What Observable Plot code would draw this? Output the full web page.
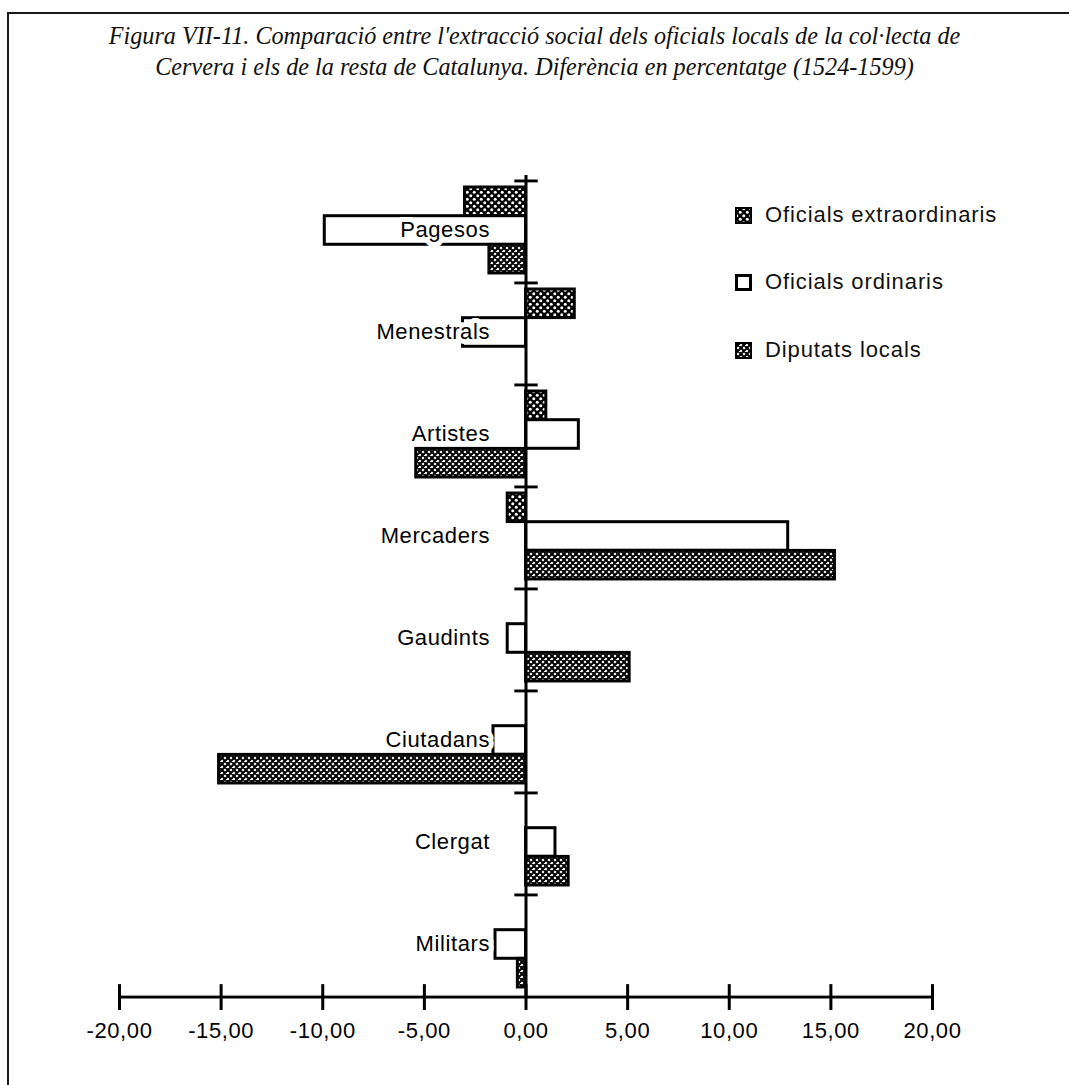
<!DOCTYPE html>
<html>
<head>
<meta charset="utf-8">
<script src="https://cdn.jsdelivr.net/npm/d3@7"></script>
<script src="https://cdn.jsdelivr.net/npm/@observablehq/plot@0.6"></script>
<style>
html, body { margin: 0; padding: 0; background: #fff; }
#page { position: relative; width: 1069px; height: 1085px; overflow: hidden; background: #fff; }
#border { position: absolute; left: 7px; top: 12px; width: 1080px; height: 1090px; border-top: 2px solid #1a1a1a; border-left: 2px solid #1a1a1a; }
#title { position: absolute; left: 0; top: 20px; width: 1069px; text-align: center;
  font-family: "Liberation Serif", "Times New Roman", serif; font-style: italic; font-size: 24.2px; line-height: 31px; color: #111; }
#chart { position: absolute; left: 0; top: 110px; }
.leg { position: absolute; left: 735px; height: 26px; display: flex; align-items: center;
  font-family: "Liberation Sans", Arial, sans-serif; font-size: 22px; letter-spacing: 0.9px; color: #111; }
.leg svg { margin-right: 13px; }
</style>
</head>
<body>
<svg width="0" height="0" style="position:absolute">
  <defs>
    <pattern id="pat-extra" patternUnits="userSpaceOnUse" width="7" height="7">
      <rect width="7" height="7" fill="#000"/>
      <circle cx="1.75" cy="1.75" r="1.5" fill="#fff"/>
      <circle cx="5.25" cy="5.25" r="1.5" fill="#fff"/>
    </pattern>
    <pattern id="pat-dip" patternUnits="userSpaceOnUse" width="6" height="6">
      <rect width="6" height="6" fill="#fff"/>
      <path d="M-1,-1 L7,7 M-1,7 L7,-1 M-1,5 L1,7 M5,-1 L7,1 M-1,1 L1,-1 M5,7 L7,5" stroke="#000" stroke-width="2"/>
    </pattern>
  </defs>
</svg>
<div id="page">
  <div id="border"></div>
  <div id="title">Figura VII-11. Comparació entre l'extracció social dels oficials locals de la col·lecta de<br>Cervera i els de la resta de Catalunya. Diferència en percentatge (1524-1599)</div>
  <div id="chart"></div>
  <div class="leg" style="top:202px"><svg width="17" height="17"><rect x="0" y="0" width="17" height="17" fill="url(#pat-extra)" stroke="#000" stroke-width="4"/></svg>Oficials extraordinaris</div>
  <div class="leg" style="top:269px"><svg width="17" height="17"><rect x="1.5" y="1.5" width="14" height="14" fill="#fff" stroke="#000" stroke-width="3"/></svg>Oficials ordinaris</div>
  <div class="leg" style="top:337px"><svg width="17" height="17"><rect x="0" y="0" width="17" height="17" fill="url(#pat-dip)" stroke="#000" stroke-width="4"/></svg>Diputats locals</div>
</div>
<script>
const categories = ["Pagesos", "Menestrals", "Artistes", "Mercaders", "Gaudints", "Ciutadans", "Clergat", "Militars"];
const seriesNames = ["Oficials extraordinaris", "Oficials ordinaris", "Diputats locals"];
const extraordinaris = [-3.0, 2.4, 1.0, -0.9, 0, 0, 0, 0];
const ordinaris = [-9.9, -3.1, 2.6, 12.9, -0.9, -1.6, 1.45, -1.5];
const diputats = [-1.8, 0, -5.4, 15.2, 5.1, -15.1, 2.1, -0.4];
const xTicks = [-20, -15, -10, -5, 0, 5, 10, 15, 20];
const xTickLabels = ["-20,00", "-15,00", "-10,00", "-5,00", "0,00", "5,00", "10,00", "15,00", "20,00"];

const W = 1069, H = 975, mT = 70, mB = 88, mL = 119, mR = 137;
const bw = (H - mT - mB) / categories.length;
const gapTop = 6, barH = 28.7;
const fills = ["url(#pat-extra)", "#fff", "url(#pat-dip)"];
const seriesValues = [extraordinaris, ordinaris, diputats];

const marks = [];
seriesValues.forEach((vals, j) => {
  const rows = categories.map((c, i) => ({category: c, series: seriesNames[j], value: vals[i]})).filter(d => d.value !== 0);
  marks.push(Plot.barX(rows, {
    y: "category", x1: 0, x2: "value",
    fill: fills[j], stroke: "#000", strokeWidth: 3,
    insetTop: gapTop + j * barH, insetBottom: bw - gapTop - (j + 1) * barH
  }));
});
// category labels with white halo
marks.push(Plot.text(categories, {
  y: d => d, x: 0, text: d => d, textAnchor: "end", dx: -36, dy: -3,
  fontSize: 22, fill: "#000", stroke: "#fff", strokeWidth: 10
}));
// category boundary ticks
marks.push(Plot.barX(categories, {
  y: d => d, x1: -0.55, x2: 0.6, fill: "#000", insetBottom: bw - 3, dy: -1.5
}));
// vertical axis at 0
marks.push(Plot.ruleX([0], {stroke: "#000", strokeWidth: 3, insetTop: -5}));
// horizontal axis line
marks.push(Plot.barX([0], {
  x1: xTicks[0], x2: xTicks[xTicks.length - 1], y: () => categories[categories.length - 1],
  fill: "#000", insetTop: bw - 3, dy: 1.5
}));
// x ticks
marks.push(Plot.tickX(xTicks, {
  x: d => d, y: () => categories[categories.length - 1],
  stroke: "#000", strokeWidth: 3, insetTop: bw - 13, insetBottom: -13
}));
// x tick labels
marks.push(Plot.text(xTicks, {
  x: d => d, text: (d, i) => xTickLabels[i], frameAnchor: "bottom", dy: 40,
  fontSize: 22, fill: "#000"
}));

const chart = Plot.plot({
  width: W, height: H,
  marginTop: mT, marginBottom: mB, marginLeft: mL, marginRight: mR,
  x: {domain: [-20, 20], axis: null},
  y: {domain: categories, padding: 0, axis: null},
  style: {fontFamily: "'Liberation Sans', Arial, sans-serif", background: "transparent", letterSpacing: "0.6px", color: "#000"},
  marks
});
document.getElementById("chart").appendChild(chart);
</script>
</body>
</html>
